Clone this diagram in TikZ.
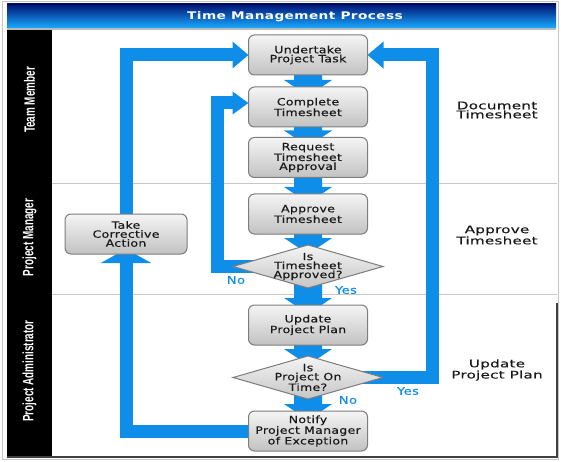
\documentclass[tikz,border=0pt]{standalone}
\usepackage{fontspec}
\usetikzlibrary{shapes.geometric,arrows.meta,calc}
\newfontfamily\boxfont{DejaVu Sans}[FakeStretch=1.25,LetterSpace=3,FakeBold=0.35]
\newfontfamily\sidefont{DejaVu Sans}[FakeStretch=1.45,LetterSpace=2,FakeBold=0.3]
\newfontfamily\titlefont{DejaVu Sans}[FakeStretch=1.3,LetterSpace=4]
\newfontfamily\lanefont{Liberation Sans}[FakeStretch=0.66]
\definecolor{flowblue}{RGB}{14,142,232}
\definecolor{navyb}{RGB}{0,18,115}
\definecolor{midb}{RGB}{0,75,205}
\definecolor{skyb}{RGB}{25,170,255}
\definecolor{boxline}{RGB}{125,125,125}
\pgfdeclarelayer{back}
\pgfdeclarelayer{arrowlayer}
\pgfsetlayers{back,arrowlayer,main}
\newcommand{\flowarrow}[2]{%
  \fill[flowblue] ($(#1.south)+(-14,-8)$) -- ($(#2.north)+(-14,-7)$) -- ($(#2.north)+(-24,-7)$)
   -- ($(#2.north)+(0,9)$) -- ($(#2.north)+(24,-7)$) -- ($(#2.north)+(14,-7)$)
   -- ($(#1.south)+(14,-8)$) -- cycle;}
\tikzset{
  procbox/.style={rectangle, rounded corners=6pt, draw=boxline, line width=1pt,
    top color=gray!8, bottom color=gray!48, minimum width=119pt, minimum height=40pt,
    inner sep=0pt, outer sep=0pt, align=center, text=black!90,
    font=\boxfont\fontsize{10}{9}\selectfont},
  decision/.style={shape=diamond, aspect=3.5, draw=boxline, line width=1pt,
    top color=gray!8, bottom color=gray!45, minimum width=150pt, minimum height=43pt,
    inner xsep=0pt, inner ysep=-4pt, outer sep=0pt, align=center, text=black!90,
    font=\boxfont\fontsize{10}{9}\selectfont},
  sidelabel/.style={align=center, text=black!90, inner sep=0pt,
    font=\sidefont\fontsize{10.5}{9}\selectfont},
  lanelabel/.style={rotate=90, text=white, inner sep=0pt,
    font=\lanefont\bfseries\fontsize{15}{15}\selectfont},
  titletext/.style={text=white, inner sep=0pt,
    font=\titlefont\bfseries\fontsize{10.5}{12}\selectfont},
  yesno/.style={text=flowblue, inner sep=0pt,
    font=\boxfont\fontsize{10.5}{12}\selectfont},
  loopline/.style={draw=flowblue, line width=13pt, line join=miter}
}
\begin{document}
\begin{tikzpicture}[x=1pt,y=-1pt]
\useasboundingbox (0,0) rectangle (561,462);
\begin{pgfonlayer}{back}
  \fill[white] (0,0) rectangle (561,462);
  \draw[gray!45, line width=1pt] (2.5,1.5) rectangle (558,459.5);
  \shade[top color=navyb, middle color=midb, bottom color=skyb] (7,4) rectangle (556,28);
  \draw[navyb!70!black, line width=1pt] (7,4.5) -- (556,4.5);
  \fill[gray!55] (7,28) rectangle (556,30);
  \fill[black] (7,30) rectangle (52,457);
  \draw[gray!45, line width=0.8pt] (52,183) -- (557,183) (52,294) -- (557,294);
  \draw[black!75, line width=1.5pt] (557,303) -- (557,457.75) (7,457) -- (557.75,457);
\end{pgfonlayer}

\node[titletext] (title) at (295,16.5) {Time Management Process};

\node[lanelabel] (l1) at (29.5,100) {Team Member};
\node[lanelabel] (l2) at (29.5,237.5) {Project Manager};
\node[lanelabel] (l3) at (29.5,371) {Project Administrator};

\node[procbox] (ut) at (308,55) {Undertake\\Project Task};
\node[procbox] (ct) at (308,107) {Complete\\Timesheet};
\node[procbox] (rt) at (308,157.5) {Request\\Timesheet\\Approval};
\node[procbox] (at) at (308,214) {Approve\\Timesheet};
\node[decision] (d1) at (308,266.5) {Is\\Timesheet\\Approved?};
\node[procbox] (up) at (308,325) {Update\\Project Plan};
\node[decision] (d2) at (308,377.5) {Is\\Project On\\Time?};
\node[procbox] (nt) at (308,431) {Notify\\Project Manager\\of Exception};
\node[procbox, minimum width=122pt] (tc) at (126,234) {Take\\Corrective\\Action};

\node[sidelabel] (s1) at (497,110) {Document\\Timesheet};
\node[sidelabel] (s2) at (497,235) {Approve\\Timesheet};
\node[sidelabel] (s3) at (497,370) {Update\\Project Plan};

\node[yesno] (no1) at (236,280) {No};
\node[yesno] (yes1) at (346,290) {Yes};
\node[yesno] (no2) at (348,400) {No};
\node[yesno] (yes2) at (408,391) {Yes};

\coordinate (rx) at (432,0);
\coordinate (ix) at (217,0);
\coordinate (ctin) at ($(ct.west)+(0,-4)$);

\begin{pgfonlayer}{arrowlayer}
  \flowarrow{ut}{ct}
  \flowarrow{ct}{rt}
  \flowarrow{rt}{at}
  \flowarrow{at}{d1}
  \flowarrow{d1}{up}
  \flowarrow{up}{d2}
  \flowarrow{d2}{nt}
  \draw[loopline, -{Triangle[width=50pt,length=14pt]}] ($(nt.west)+(5,0)$) -| ($(tc.south)+(0,-5)$);
  \draw[loopline, -{Triangle[width=26pt,length=16pt]}] ($(tc.north)+(0,5)$) |- (ut.west);
  \draw[loopline, -{Triangle[width=26pt,length=16pt]}] ($(d2.east)+(-25,0)$) -| (rx |- ut.east) -- (ut.east);
  \draw[loopline, -{Triangle[width=22pt,length=16pt]}] ($(d1.west)+(25,0)$) -| (ix |- ctin) -- (ctin);
\end{pgfonlayer}
\end{tikzpicture}
\end{document}
